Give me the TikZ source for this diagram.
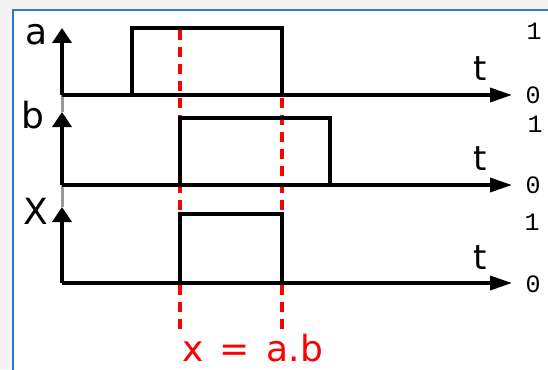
\documentclass[tikz,border=0pt]{standalone}
\usepackage{fontspec}
\setmainfont{DejaVu Sans}
\newfontfamily\digitfont{Liberation Mono}
\usetikzlibrary{arrows.meta}
\definecolor{panelblue}{HTML}{2A7BD0}
\definecolor{pagegray}{HTML}{F4F4F4}
\definecolor{sigred}{HTML}{FF0000}

\begin{document}
\begin{tikzpicture}[
      x=1pt, y=-1pt,
      sig/.style={black, line width=3.6pt, line join=miter},
      vax/.style={-{Triangle[length=15pt,width=19pt]}, black, line width=3.6pt},
      hax/.style={-{Triangle[length=22pt,width=14pt]}, black, line width=3.6pt},
      stub/.style={black!40, line width=3pt},
      cut/.style={sigred, line width=3.6pt, dash pattern=on 10pt off 7pt},
      lbl/.style={font=\fontsize{36}{36}\selectfont, anchor=base, inner sep=0pt},
      tlbl/.style={font=\fontsize{34}{34}\selectfont, anchor=base, inner sep=0pt},
      lvl/.style={font=\digitfont\fontsize{25}{25}\selectfont, anchor=base, inner sep=0pt},
    ]
    \useasboundingbox (0,0) rectangle (548,369);
    \fill[pagegray] (0,0) rectangle (548,369);
    \filldraw[fill=white, draw=panelblue, line width=2pt] (13,10) rectangle (570,390);

    % axis origins and tips
    \coordinate (oa) at (62,95);   \coordinate (ya) at (62,28);  \coordinate (ta) at (512,95);
    \coordinate (ob) at (62,185);  \coordinate (yb) at (62,112); \coordinate (tb) at (512,185);
    \coordinate (ox) at (62,283);  \coordinate (yx) at (62,207); \coordinate (tx) at (512,283);

    % red cut lines
    \coordinate (c1t) at (180,30);  \coordinate (c1b) at (180,333);
    \coordinate (c2t) at (282,30);  \coordinate (c2b) at (282,333);
    \draw[cut] (c1t) -- (c1b);
    \draw[cut] (c2t) -- (c2b);

    \draw[stub] (oa) -- (yb);
    \draw[stub] (ob) -- (yx);

    \draw[vax] (oa) -- (ya);
    \draw[vax] (ob) -- (yb);
    \draw[vax] (ox) -- (yx);
    \draw[hax] (oa) -- (ta);
    \draw[hax] (ob) -- (tb);
    \draw[hax] (ox) -- (tx);

    % pulses
    \draw[sig] (132,95) -- (132,28) -- (282,28) -- (282,95);
    \draw[sig] (180,185) -- (180,118) -- (330,118) -- (330,185);
    \draw[sig] (180,283) -- (180,214) -- (282,214) -- (282,283);

    % labels
    \node[lbl] (la) at (37,45) {a};
    \node[lbl] (lb) at (33,128) {b};
    \node[lbl] (lx) at (36,224) {X};
    \node[tlbl] (t1) at (480,80) {t};
    \node[tlbl] (t2) at (480,170) {t};
    \node[tlbl] (t3) at (480,269) {t};
    \node[lvl] (h1) at (534,40) {1};
    \node[lvl] (z1) at (533,103) {0};
    \node[lvl] (h2) at (535,132) {1};
    \node[lvl] (z2) at (533,193) {0};
    \node[lvl] (h3) at (532,230) {1};
    \node[lvl] (z3) at (533,292) {0};
    \node[lbl, sigred, anchor=base west, text depth=0pt] (eq) at (182,361)
      {x\hspace{5pt} = \hspace{5pt}a.b};
  \end{tikzpicture}
\end{document}
